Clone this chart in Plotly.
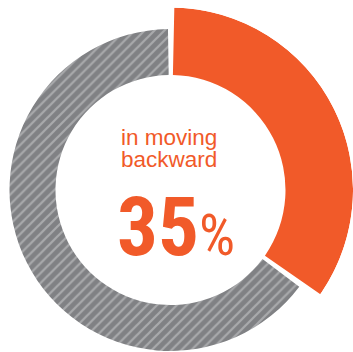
import math
import plotly.graph_objects as go

# ---- data ----
categories = ["in moving backward", "other"]
shares = [35, 65]
label_lines = ["in moving", "backward"]
headline_value = "35"
headline_unit = "%"

# ---- style ----
ORANGE = "#F15A29"
GRAY = "#808184"
STRIPE = "#a9aaac"
W, H = 353, 352
CX, CY = 170.5, 190.0      # donut centre in px (from left / from top)
INNER = 115.0
OUTER_GRAY = 161.0
R1 = 162.0                 # frame radius of gray polar
R2 = 182.5                 # frame / outer radius of orange polar
ORANGE_INSET = 1.2         # deg trimmed at each orange end
GRAY_INSET = 0.9           # deg trimmed at each gray end
SECTOR = [-38, 90]

total = float(sum(shares))
spans = []
start = 0.0
for v in shares:
    a0 = start / total * 360.0
    a1 = (start + v) / total * 360.0
    spans.append((a0, a1))
    start += v

def bar_geom(span, inset):
    a0, a1 = span[0] + inset, span[1] - inset
    return (a0 + a1) / 2.0, a1 - a0

th_o, w_o = bar_geom(spans[0], ORANGE_INSET)
th_g, w_g = bar_geom(spans[1], GRAY_INSET)

fig = go.Figure()

fig.add_trace(go.Barpolar(
    theta=[th_g], width=[w_g], base=[INNER], r=[OUTER_GRAY - INNER],
    marker=dict(color=GRAY,
                pattern=dict(shape="/", bgcolor=GRAY, fgcolor=STRIPE,
                             size=7, solidity=0.32, fillmode="replace"),
                line=dict(width=0)),
    name=categories[1], hoverinfo="skip", subplot="polar"))

fig.add_trace(go.Barpolar(
    theta=[th_o], width=[w_o], base=[INNER], r=[R2 - INNER],
    marker=dict(color=ORANGE, line=dict(width=0)),
    name=categories[0], hoverinfo="skip", subplot="polar2"))

# domains
d1x = [(CX - R1) / W, (CX + R1) / W]
d1y = [(H - CY - R1) / H, (H - CY + R1) / H]
smin = math.sin(math.radians(SECTOR[0]))
d2x = [CX / W, (CX + R2) / W]
d2y = [1 - (CY - smin * R2) / H, 1 - (CY - R2) / H]

common_ang = dict(visible=False, rotation=90, direction="clockwise")
fig.update_layout(
    width=W, height=H,
    margin=dict(l=0, r=0, t=0, b=0),
    paper_bgcolor="white", plot_bgcolor="white",
    showlegend=False,
    polar=dict(domain=dict(x=d1x, y=d1y), bgcolor="rgba(0,0,0,0)",
               radialaxis=dict(visible=False, range=[0, R1]),
               angularaxis=common_ang),
    polar2=dict(domain=dict(x=d2x, y=d2y), bgcolor="rgba(0,0,0,0)",
                sector=SECTOR,
                radialaxis=dict(visible=False, range=[0, R2]),
                angularaxis=common_ang),
)

def py(px_from_top):
    return 1 - px_from_top / H

TXT_FONT = "Liberation Sans, Arial, Helvetica, sans-serif"
NARROW = ("Roboto Condensed, Liberation Sans Narrow, Noto Sans Condensed, "
          "DejaVu Sans Condensed, Arial Narrow, sans-serif")

fig.add_annotation(x=168.5 / W, y=py(137.5), xref="paper", yref="paper",
                   text=label_lines[0], showarrow=False,
                   xanchor="center", yanchor="middle",
                   font=dict(family=TXT_FONT, size=22.5, color=ORANGE))
fig.add_annotation(x=168.5 / W, y=py(159.5), xref="paper", yref="paper",
                   text=label_lines[1], showarrow=False,
                   xanchor="center", yanchor="middle",
                   font=dict(family=TXT_FONT, size=22.5, color=ORANGE))
fig.add_annotation(x=175.5 / W, y=py(227), xref="paper", yref="paper",
                   text="<b>" + headline_value + "</b><span style='font-size:57px'>"
                        + headline_unit + "</span>",
                   showarrow=False, xanchor="center", yanchor="middle",
                   font=dict(family=NARROW, size=81, color=ORANGE))

fig.write_html("out.html")
